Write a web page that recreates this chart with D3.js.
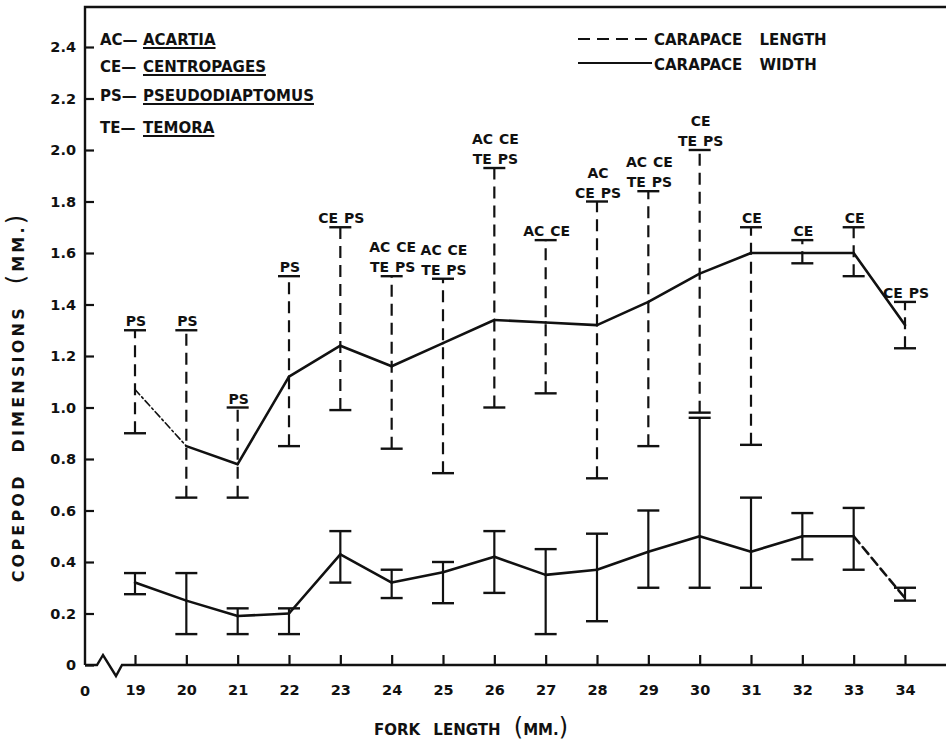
<!DOCTYPE html>
<html>
<head>
<meta charset="utf-8">
<script src="https://cdn.jsdelivr.net/npm/d3@7/dist/d3.min.js"></script>
<style>
  body { margin: 0; background: #fff; }
  text { font-family: 'DejaVu Sans', sans-serif; font-weight: bold; fill: #111; }
</style>
</head>
<body>
<div id="copepod-graph"></div>
<script>
// Data
const forkLengths = [19, 20, 21, 22, 23, 24, 25, 26, 27, 28, 29, 30, 31, 32, 33, 34];

const lengthMean = [1.07, 0.85, 0.78, 1.12, 1.24, 1.16, 1.25, 1.34, 1.33, 1.32, 1.41, 1.52, 1.60, 1.60, 1.60, 1.32];
const lengthMin = [0.90, 0.65, 0.65, 0.85, 0.99, 0.84, 0.745, 1.00, 1.055, 0.725, 0.85, 0.98, 0.855, 1.56, 1.51, 1.23];
const lengthMax = [1.30, 1.30, 1.00, 1.51, 1.70, 1.51, 1.50, 1.93, 1.65, 1.80, 1.84, 2.00, 1.70, 1.65, 1.70, 1.41];

const widthMean = [0.32, 0.25, 0.19, 0.20, 0.43, 0.32, 0.36, 0.42, 0.35, 0.37, 0.44, 0.50, 0.44, 0.50, 0.50, 0.26];
const widthMin = [0.275, 0.12, 0.12, 0.12, 0.32, 0.26, 0.24, 0.28, 0.12, 0.17, 0.30, 0.30, 0.30, 0.41, 0.37, 0.25];
const widthMax = [0.357, 0.357, 0.22, 0.22, 0.52, 0.37, 0.40, 0.52, 0.45, 0.51, 0.60, 0.96, 0.65, 0.59, 0.61, 0.30];

const speciesUpper = ['', '', '', '', '', 'AC CE', 'AC CE', 'AC CE', '', 'AC', 'AC CE', 'CE', '', '', '', ''];
const speciesLower = ['PS', 'PS', 'PS', 'PS', 'CE PS', 'TE PS', 'TE PS', 'TE PS', 'AC CE', 'CE PS', 'TE PS', 'TE PS', 'CE', 'CE', 'CE', 'CE PS'];

const yTicks = [0, 0.2, 0.4, 0.6, 0.8, 1.0, 1.2, 1.4, 1.6, 1.8, 2.0, 2.2, 2.4];

const speciesCodes = ['AC', 'CE', 'PS', 'TE'];
const speciesNames = ['ACARTIA', 'CENTROPAGES', 'PSEUDODIAPTOMUS', 'TEMORA'];

// Config
const width = 946;
const height = 745;
const margin = {top: 7, right: 0, bottom: 79, left: 85};
const capWidth = 22;

const x = d3.scaleLinear()
  .domain([19, 34])
  .range([135, 905]);

const y = d3.scaleLinear()
  .domain([0, 2.4])
  .range([height - margin.bottom - 1, 47]);

const svg = d3.select('#copepod-graph')
  .append('svg')
  .attr('width', width)
  .attr('height', height);

const rows = forkLengths.map((f, i) => ({
  f,
  lMean: lengthMean[i], lMin: lengthMin[i], lMax: lengthMax[i],
  wMean: widthMean[i], wMin: widthMin[i], wMax: widthMax[i],
  upper: speciesUpper[i], lower: speciesLower[i]
}));

// Frame: top line, y axis line, x axis with break
const y0 = y(0);
svg.append('path')
  .attr('d', `M${margin.left},${y0}V${margin.top}H${width}`)
  .attr('fill', 'none')
  .attr('stroke', '#111')
  .attr('stroke-width', 2.4);

svg.append('path')
  .attr('d', `M${margin.left},${y0}H97L103,655L116,676L122,${y0}H${width}`)
  .attr('fill', 'none')
  .attr('stroke', '#111')
  .attr('stroke-width', 2.4)
  .attr('stroke-linejoin', 'miter');

// Y-Axis
const yAxis = svg.append('g')
  .attr('transform', `translate(${margin.left},0)`)
  .call(d3.axisLeft(y)
    .tickValues(yTicks)
    .tickSize(-9)
    .tickPadding(9)
    .tickFormat(d => d === 0 ? '0' : d3.format('.1f')(d)));
yAxis.select('.domain').remove();
yAxis.selectAll('line').attr('stroke', '#111').attr('stroke-width', 2.2);
yAxis.selectAll('text')
  .attr('font-size', 14.5)
  .attr('font-family', 'DejaVu Sans, sans-serif')
  .attr('font-weight', 'bold')
  .attr('fill', '#111');

// X-Axis
const xAxis = svg.append('g')
  .attr('transform', `translate(0,${y0})`)
  .call(d3.axisBottom(x)
    .tickValues(forkLengths)
    .tickSize(-10)
    .tickPadding(20)
    .tickFormat(d3.format('d')));
xAxis.select('.domain').remove();
xAxis.selectAll('line').attr('stroke', '#111').attr('stroke-width', 2.2);
xAxis.selectAll('text')
  .attr('font-size', 14.5)
  .attr('font-family', 'DejaVu Sans, sans-serif')
  .attr('font-weight', 'bold')
  .attr('fill', '#111');

svg.append('text')
  .attr('x', margin.left)
  .attr('y', y0 + 31)
  .attr('text-anchor', 'middle')
  .attr('font-size', 14.5)
  .text('0');

// Carapace length: dashed range bars
svg.append('g')
  .selectAll('line')
  .data(rows)
  .join('line')
  .attr('x1', d => x(d.f))
  .attr('x2', d => x(d.f))
  .attr('y1', d => y(d.lMin))
  .attr('y2', d => y(d.lMax))
  .attr('stroke', '#111')
  .attr('stroke-width', 2.2)
  .attr('stroke-dasharray', '12,7');

// Caps for both series
const caps = [];
rows.forEach(d => {
  caps.push({f: d.f, v: d.lMin}, {f: d.f, v: d.lMax}, {f: d.f, v: d.wMin}, {f: d.f, v: d.wMax});
});
svg.append('g')
  .selectAll('line')
  .data(caps)
  .join('line')
  .attr('x1', d => x(d.f) - capWidth / 2)
  .attr('x2', d => x(d.f) + capWidth / 2)
  .attr('y1', d => y(d.v))
  .attr('y2', d => y(d.v))
  .attr('stroke', '#111')
  .attr('stroke-width', 2.4);

// Carapace width: solid range bars
svg.append('g')
  .selectAll('line')
  .data(rows)
  .join('line')
  .attr('x1', d => x(d.f))
  .attr('x2', d => x(d.f))
  .attr('y1', d => y(d.wMin))
  .attr('y2', d => y(d.wMax))
  .attr('stroke', '#111')
  .attr('stroke-width', 2.2);

// Mean lines, segment by segment (some segments are dashed in the original)
const segments = (key, dashedAt, dash) => d3.pairs(rows).map(([a, b], i) => ({
  a, b, key, dash: dashedAt.includes(i) ? dash : null
}));

svg.append('g')
  .selectAll('line')
  .data(segments('lMean', [0], '7,3,2,3').concat(segments('wMean', [14], '9,5')))
  .join('line')
  .attr('x1', d => x(d.a.f))
  .attr('y1', d => y(d.a[d.key]))
  .attr('x2', d => x(d.b.f))
  .attr('y2', d => y(d.b[d.key]))
  .attr('stroke', '#111')
  .attr('stroke-width', d => d.dash && d.key === 'lMean' ? 1.6 : 2.6)
  .attr('stroke-dasharray', d => d.dash)
  .attr('stroke-linecap', 'round');

// Species labels above the length bars
const labels = svg.append('g')
  .attr('font-size', 14)
  .attr('text-anchor', 'middle');

labels.selectAll('.lower')
  .data(rows)
  .join('text')
  .attr('class', 'lower')
  .attr('x', d => x(d.f) + 1)
  .attr('y', d => y(d.lMax) - 4)
  .attr('word-spacing', 1)
  .text(d => d.lower);

labels.selectAll('.upper')
  .data(rows.filter(d => d.upper))
  .join('text')
  .attr('class', 'upper')
  .attr('x', d => x(d.f) + 1)
  .attr('y', d => y(d.lMax) - 24)
  .attr('word-spacing', 1)
  .text(d => d.upper);

// Species key (top left)
const key = svg.append('g')
  .attr('font-size', 15);

const keyY = [45, 72, 101, 133];
speciesCodes.forEach((code, i) => {
  key.append('text')
    .attr('x', 100)
    .attr('y', keyY[i])
    .text(code + '\u2014');
  const name = key.append('text')
    .attr('x', 143)
    .attr('y', keyY[i])
    .text(speciesNames[i]);
  const w = name.node().getComputedTextLength();
  key.append('line')
    .attr('x1', 143)
    .attr('x2', 143 + w)
    .attr('y1', keyY[i] + 3)
    .attr('y2', keyY[i] + 3)
    .attr('stroke', '#111')
    .attr('stroke-width', 1.8);
});

// Line legend (top right)
const legend = svg.append('g')
  .attr('font-size', 15);

legend.append('line')
  .attr('x1', 578).attr('x2', 650)
  .attr('y1', 39).attr('y2', 39)
  .attr('stroke', '#111')
  .attr('stroke-width', 2.2)
  .attr('stroke-dasharray', '12,7');
legend.append('line')
  .attr('x1', 578).attr('x2', 652)
  .attr('y1', 63).attr('y2', 63)
  .attr('stroke', '#111')
  .attr('stroke-width', 2.2);
legend.append('text')
  .attr('x', 654).attr('y', 45)
  .attr('word-spacing', 12)
  .text('CARAPACE LENGTH');
legend.append('text')
  .attr('x', 654).attr('y', 70)
  .attr('word-spacing', 12)
  .text('CARAPACE WIDTH');

// Axis titles
const xTitle = svg.append('text')
  .attr('x', 471)
  .attr('y', 735)
  .attr('text-anchor', 'middle')
  .attr('font-size', 15)
  .attr('word-spacing', 8);
xTitle.append('tspan').text('FORK LENGTH ');
xTitle.append('tspan').attr('font-size', 24).attr('font-weight', 'normal').text('(');
xTitle.append('tspan').text('MM.');
xTitle.append('tspan').attr('font-size', 24).attr('font-weight', 'normal').text(')');

const yTitle = svg.append('text')
  .attr('transform', 'translate(24,397) rotate(-90)')
  .attr('text-anchor', 'middle')
  .attr('font-size', 16)
  .attr('letter-spacing', 3.2)
  .attr('word-spacing', 12);
yTitle.append('tspan').text('COPEPOD DIMENSIONS ');
yTitle.append('tspan').attr('font-size', 24).attr('font-weight', 'normal').text('(');
yTitle.append('tspan').text('MM.');
yTitle.append('tspan').attr('font-size', 24).attr('font-weight', 'normal').text(')');
</script>
</body>
</html>
